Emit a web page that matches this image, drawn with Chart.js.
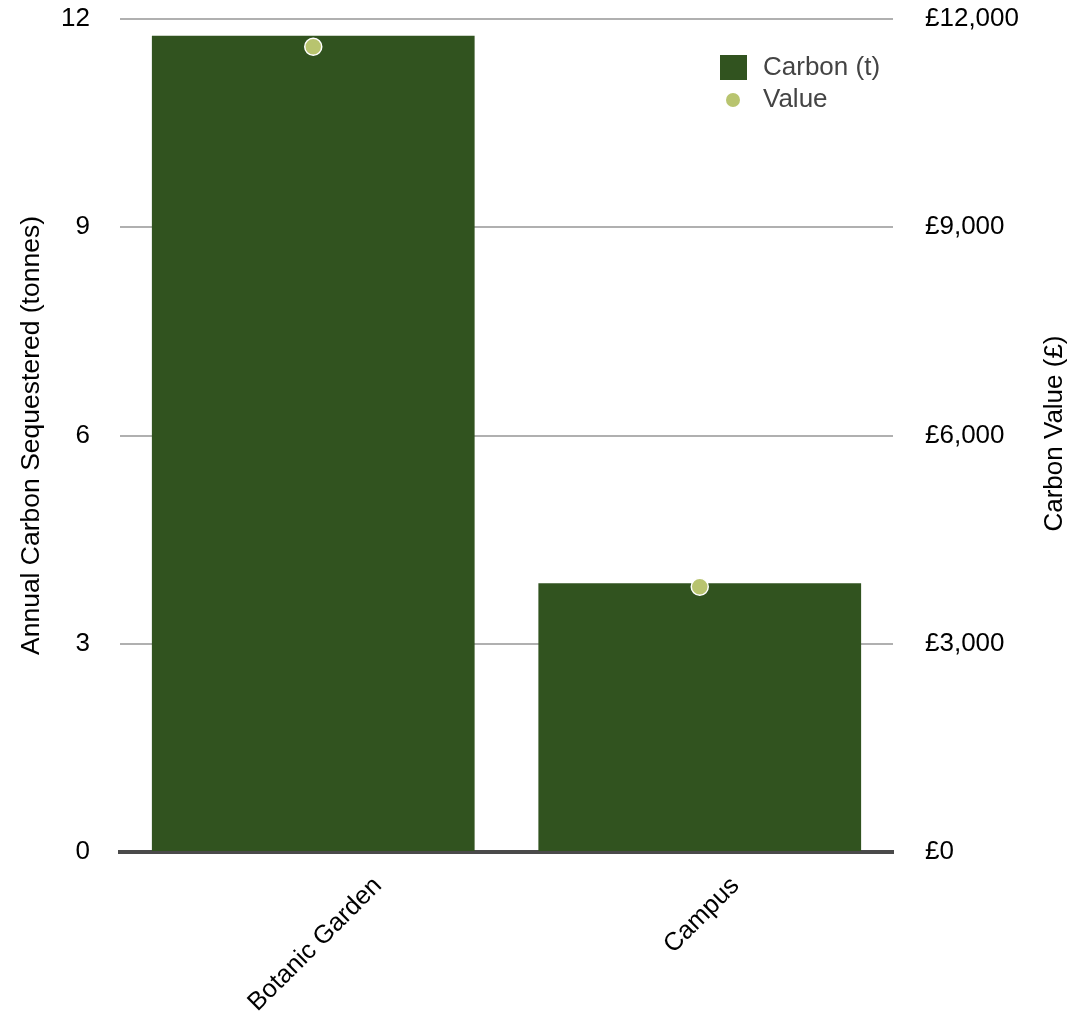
<!DOCTYPE html>
<html>
<head>
<meta charset="utf-8">
<script src="https://cdn.jsdelivr.net/npm/chart.js@4.4.1/dist/chart.umd.min.js"></script>
<style>
  html, body { margin: 0; padding: 0; background: #fff; }
  #wrap { width: 1080px; height: 1015px; position: relative; }
</style>
</head>
<body>
<div id="wrap"><canvas id="carbon-chart"></canvas></div>
<script>
const sites = ['Botanic Garden', 'Campus'];
const carbonTonnes = [11.76, 3.87];
const carbonValue = [11600, 3820];
const tonneTicks = [0, 3, 6, 9, 12];
const valueTicks = [0, 3000, 6000, 9000, 12000];

const fontFamily = '"Liberation Sans", Arial, Helvetica, sans-serif';
const barColor = '#31531f';
const dotColor = '#b8c46f';

// rotated x labels centred on each category, and the right-hand title read bottom to top
const textPlugin = {
    id: 'extraText',
    afterDraw(chart) {
        const ctx = chart.ctx;
        const xScale = chart.scales.x;
        const area = chart.chartArea;
        ctx.save();
        ctx.font = '25.5px ' + fontFamily;
        ctx.fillStyle = '#000';
        ctx.textAlign = 'center';
        ctx.textBaseline = 'middle';
        sites.forEach(function(name, i) {
            const w = ctx.measureText(name).width;
            const x = xScale.getPixelForValue(i);
            const y = area.bottom + 21 + (w + 25) * Math.SQRT1_2 / 2;
            ctx.save();
            ctx.translate(x + 2, y);
            ctx.rotate(-Math.PI / 4);
            ctx.fillText(name, 0, 0);
            ctx.restore();
        });
        ctx.font = '26px ' + fontFamily;
        ctx.save();
        ctx.translate(1055, (area.top + area.bottom) / 2 - 2);
        ctx.rotate(-Math.PI / 2);
        ctx.fillText('Carbon Value (£)', 0, 0);
        ctx.restore();
        ctx.restore();
    }
};

// legend sits inside the plot, top right
const legendPlugin = {
    id: 'innerLegend',
    afterDraw(chart) {
        const ctx = chart.ctx;
        const sets = chart.data.datasets;
        ctx.save();
        ctx.font = '26px ' + fontFamily;
        ctx.fillStyle = barColor;
        ctx.fillRect(720, 55, 27, 25);
        ctx.fillStyle = dotColor;
        ctx.beginPath();
        ctx.arc(733, 100, 7, 0, Math.PI * 2);
        ctx.fill();
        ctx.fillStyle = '#444';
        ctx.textAlign = 'left';
        ctx.textBaseline = 'middle';
        ctx.fillText(sets[1].label, 763, 68);
        ctx.fillText(sets[0].label, 763, 100);
        ctx.restore();
    }
};

function fixVertical(width) {
    return function(scale) {
        scale.width = width;
        scale.paddingTop = 0;
        scale.paddingBottom = 0;
    };
}

const ctx = document.getElementById('carbon-chart').getContext('2d');
new Chart(ctx, {
    data: {
        labels: sites,
        datasets: [
            {
                type: 'scatter',
                label: 'Value',
                data: carbonValue.map(function(v, i) { return { x: sites[i], y: v }; }),
                yAxisID: 'y2',
                backgroundColor: dotColor,
                borderColor: '#ffffff',
                borderWidth: 1.5,
                pointRadius: 8.5,
                order: 0
            },
            {
                type: 'bar',
                label: 'Carbon (t)',
                data: carbonTonnes,
                yAxisID: 'y',
                backgroundColor: barColor,
                categoryPercentage: 0.835,
                barPercentage: 1,
                order: 1
            }
        ]
    },
    options: {
        responsive: true,
        maintainAspectRatio: false,
        animation: false,
        layout: { padding: { top: 19, right: 0, left: 0, bottom: 0 } },
        plugins: {
            legend: { display: false },
            tooltip: { enabled: false }
        },
        scales: {
            x: {
                type: 'category',
                offset: true,
                grid: { display: false, drawTicks: false },
                border: { display: true, color: '#4a4a4a', width: 4 },
                ticks: { display: false },
                afterFit: function(scale) { scale.height = 163; }
            },
            y: {
                position: 'left',
                min: 0,
                max: 12,
                afterBuildTicks: function(scale) {
                    scale.ticks = tonneTicks.map(function(v) { return { value: v }; });
                },
                grid: {
                    color: function(c) { return c.tick && c.tick.value === 0 ? 'rgba(0,0,0,0)' : '#b0b0b0'; },
                    lineWidth: 2,
                    drawTicks: false
                },
                border: { display: false },
                ticks: {
                    color: '#000',
                    padding: 30,
                    font: { family: fontFamily, size: 26 }
                },
                title: {
                    display: true,
                    text: 'Annual Carbon Sequestered (tonnes)',
                    color: '#000',
                    font: { family: fontFamily, size: 26.5 },
                    padding: { top: 16, bottom: 0 }
                },
                afterFit: fixVertical(120)
            },
            y2: {
                position: 'right',
                min: 0,
                max: 12000,
                afterBuildTicks: function(scale) {
                    scale.ticks = valueTicks.map(function(v) { return { value: v }; });
                },
                grid: { display: false, drawTicks: false },
                border: { display: false },
                ticks: {
                    color: '#000',
                    padding: 32,
                    font: { family: fontFamily, size: 26 },
                    callback: function(v) { return '£' + Number(v).toLocaleString('en-GB'); }
                },
                afterFit: fixVertical(187)
            }
        }
    },
    plugins: [textPlugin, legendPlugin]
});
</script>
</body>
</html>
